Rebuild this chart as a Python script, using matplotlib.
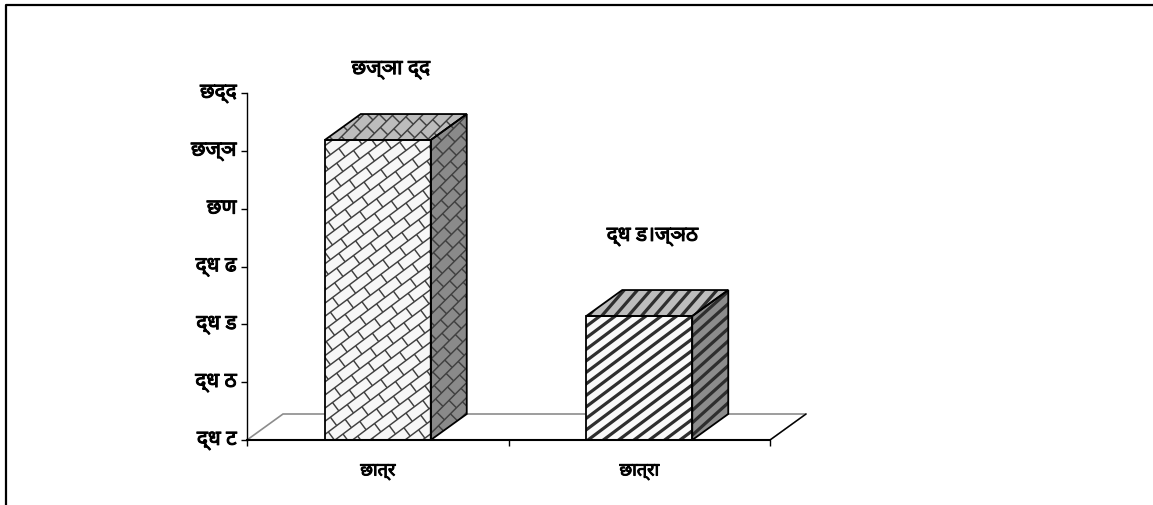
import matplotlib
matplotlib.use("Agg")
import matplotlib.pyplot as plt
import matplotlib.patheffects as pe
import numpy as np
from matplotlib.collections import LineCollection
from matplotlib.patches import Polygon
from matplotlib.transforms import IdentityTransform, ScaledTranslation

categories = ["छात्र", "छात्रा"]
values = [55.56, 46.43]
value_labels = ["छज्ञा द्द", "द्ध ड।ज्ञठ"]
y_ticks = [40, 43, 46, 49, 52, 55, 58]
y_tick_labels = ["द्ध ट", "द्ध ठ", "द्ध ड", "द्ध ढ", "छण", "छज्ञ", "छद्द"]

W, H = 1153, 506
plt.rcParams["font.family"] = ["Noto Sans", "DejaVu Sans"]
heavy = [pe.withStroke(linewidth=0.7, foreground="black")]

fig = plt.figure(figsize=(W / 100, H / 100), dpi=100)
# plot box in pixels: x 247-770, y 94-441
ax = fig.add_axes([247 / W, 1 - 441 / H, 523 / W, 347 / H])
ax.set_xlim(0, 2)
ax.set_ylim(40, 58)

# depth of the fake 3d box, in axis units
dep_x = 36 / 523 * 2
dep_y = 26 / 347 * 18
bar_w = 106 / 523 * 2
REACH = 1300


def pattern_basis(slope):
    u = np.array([1, slope]) / np.hypot(1, slope)
    v = np.array([slope, -1]) / np.hypot(1, slope)
    return u, v


def stripe_lines(spacing, slope):
    u, v = pattern_basis(slope)
    rows = np.arange(-REACH, REACH, spacing)
    return [[tuple(r * v - REACH * u), tuple(r * v + REACH * u)] for r in rows]


def brick_lines(spacing, brick, slope):
    # diagonal rows with short joints between them, staggered row by row
    u, v = pattern_basis(slope)
    lines = stripe_lines(spacing, slope)
    for j, r in enumerate(np.arange(-REACH, REACH, spacing)):
        shift = (j % 2) * brick / 2
        for t in np.arange(-REACH, REACH, brick):
            start = r * v + (t + shift) * u
            lines.append([tuple(start), tuple(start + spacing * v)])
    return lines


def face(points, color, lines, line_color, lw):
    poly = Polygon(points, closed=True, facecolor=color, edgecolor="none", clip_on=False, zorder=3)
    ax.add_patch(poly)
    lc = LineCollection(lines, colors=line_color, linewidths=lw, transform=IdentityTransform(), zorder=3.1)
    ax.add_collection(lc, autolim=False)
    lc.set_clip_path(poly)
    ax.add_patch(Polygon(points, closed=True, fill=False, edgecolor="black", linewidth=1.3, clip_on=False, zorder=3.2))


# floor
floor = [(0, 40), (dep_x, 40 + dep_y), (2 + dep_x, 40 + dep_y), (2, 40)]
ax.add_patch(Polygon(floor, closed=True, facecolor="white", edgecolor="#8c8c8c", linewidth=1.2, clip_on=False, zorder=1))
ax.plot([2, 2 + dep_x], [40, 40 + dep_y], color="black", lw=1, clip_on=False, zorder=1.5)

for i, v in enumerate(values):
    x0 = i + 0.5 - bar_w / 2
    x1 = i + 0.5 + bar_w / 2
    if i == 0:
        front_lines = brick_lines(10.5, 21, 0.75)
        side_lines = brick_lines(10.5, 17, 1.0)
        top_lines = brick_lines(10.5, 17, 1.0)
        line_color, lw = "#404040", 1.05
        front_color, side_color, top_color = "#f7f7f7", "#8a8a8a", "#bcbcbc"
    else:
        front_lines = stripe_lines(9.2, 0.75)
        side_lines = stripe_lines(9.2, 0.9)
        top_lines = stripe_lines(10, 1.15)
        line_color, lw = "#2e2e2e", 2.3
        front_color, side_color, top_color = "#fafafa", "#8c8c8c", "#bdbdbd"
    face([(x0, 40), (x1, 40), (x1, v), (x0, v)], front_color, front_lines, line_color, lw)
    face([(x1, 40), (x1 + dep_x, 40 + dep_y), (x1 + dep_x, v + dep_y), (x1, v)], side_color, side_lines, line_color, lw)
    face([(x0, v), (x1, v), (x1 + dep_x, v + dep_y), (x0 + dep_x, v + dep_y)], top_color, top_lines, line_color, lw)

# value labels sit above each box
label_pos = [(0.55, 59.25), (1.55, 50.6)]
for (lx, ly), s in zip(label_pos, value_labels):
    ax.text(lx, ly, s, ha="center", va="center", fontsize=15, fontweight="bold", path_effects=heavy, clip_on=False)

ax.set_xticks([0, 1, 2])
ax.set_xticklabels([])
ax.set_xticks([0.5, 1.5], categories, minor=True, fontsize=13, fontweight="bold", path_effects=heavy)
ax.tick_params(axis="x", which="major", direction="out", length=4.5, width=1, pad=0)
ax.tick_params(axis="x", which="minor", length=0, pad=16)
ax.set_yticks(y_ticks, y_tick_labels, fontsize=15, fontweight="bold", path_effects=heavy)
ax.tick_params(axis="y", direction="out", length=4.5, width=1, pad=3)
# labels sit a little above their ticks
lift = ScaledTranslation(0, 3 / 100, fig.dpi_scale_trans)
for lab in ax.get_yticklabels():
    lab.set_transform(lab.get_transform() + lift)
for s in ["top", "right"]:
    ax.spines[s].set_visible(False)
ax.spines["left"].set_linewidth(1)
ax.spines["bottom"].set_linewidth(1.5)
ax.spines["left"].set_zorder(5)
ax.spines["bottom"].set_zorder(5)

# outer chart frame, only top and left show in the crop
fig.add_artist(plt.Line2D([6 / W, 6 / W, 1], [0, 1 - 6 / H, 1 - 6 / H], color="black", lw=1.6))

fig.savefig("out.png", dpi=100)
